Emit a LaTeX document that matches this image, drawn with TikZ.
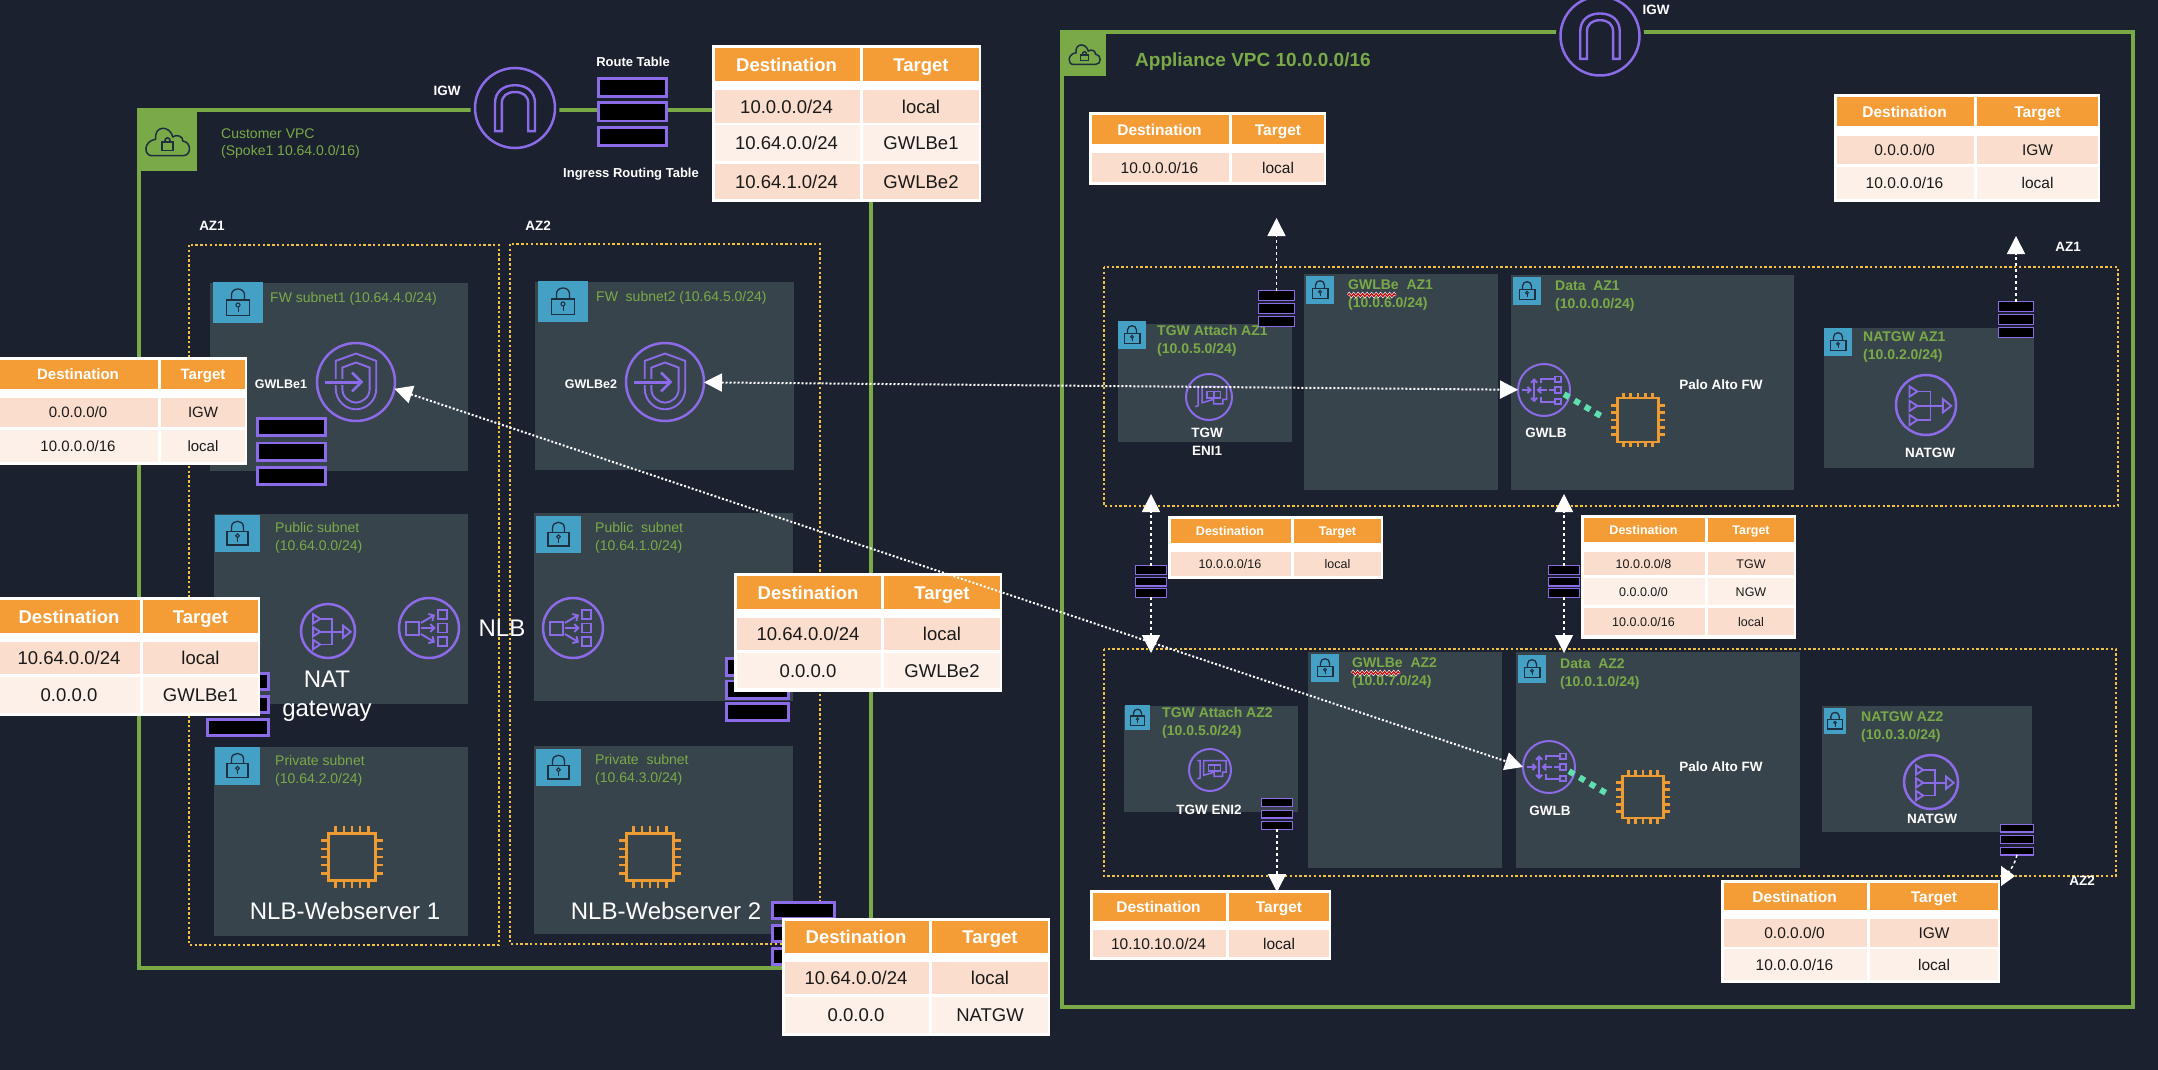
\documentclass[tikz,border=0pt]{standalone}
\usepackage{fontspec}
\setmainfont{Liberation Sans}
\usetikzlibrary{arrows.meta,decorations.pathmorphing}

\definecolor{pagebg}{HTML}{1B212E}
\definecolor{subnetfill}{HTML}{38444C}
\definecolor{vpcgreen}{HTML}{7AAA47}
\definecolor{tabblue}{HTML}{45A0C6}
\definecolor{iconpurple}{HTML}{8C6BE8}
\definecolor{chiporange}{HTML}{EE9B32}
\definecolor{azyellow}{HTML}{F5C33B}
\definecolor{tblhead}{HTML}{F49D37}
\definecolor{tblrowa}{HTML}{FADDCC}
\definecolor{tblrowb}{HTML}{FDF0E8}
\definecolor{dotteal}{HTML}{5FDFAE}
\definecolor{glyphdark}{HTML}{1E2F40}

\newcommand{\pxfont}[1]{\fontsize{#1}{#1}\selectfont}

\tikzset{
  bigtip/.tip={Triangle[length=18pt,width=18pt]},
  vpcbox/.style={draw=vpcgreen,line width=3.5pt},
  azbox/.style={draw=azyellow,line width=2.4pt,dash pattern=on 2.4pt off 2.4pt},
  iconring/.style={circle,draw=iconpurple,line width=2.5pt,inner sep=0pt,outer sep=0pt},
  gapring/.style={iconring,fill=pagebg,preaction={draw=pagebg,line width=9pt}},
  glyphline/.style={draw=iconpurple,line width=1.9pt,line join=miter},
  chipbody/.style={rectangle,draw=chiporange,line width=2.5pt,inner sep=0pt,outer sep=0pt},
  chipline/.style={draw=chiporange,line width=2.5pt},
  routerow/.style={rectangle,draw=iconpurple,fill=black,inner sep=0pt,outer sep=0pt},
  dotwire/.style={draw=white,line width=2pt,dash pattern=on 2pt off 2pt},
  dashwire/.style={draw=white,line width=1.5pt,dash pattern=on 3pt off 3pt},
  whitelabel/.style={text=white,font=\bfseries\pxfont{13.5},inner sep=0pt},
  biglabel/.style={text=white,font=\pxfont{24},inner sep=0pt},
  vpclabel/.style={text=vpcgreen,anchor=west,align=left,inner sep=0pt},
  cellhead/.style={text=white,font=\bfseries\pxfont{#1},inner sep=0pt,anchor=base},
  cellbody/.style={text=black!90,font=\pxfont{#1},inner sep=0pt,anchor=base},
  teal dots/.style={draw=dotteal,line width=6pt,dash pattern=on 6pt off 6.17pt},
  squiggle/.style={draw=red!80!black,line width=1.2pt,decorate,decoration={zigzag,amplitude=1.4pt,segment length=4.5pt},
    preaction={draw=white,line width=2.4pt}},
  % icon glyphs, one unit is the ring radius
  archglyph/.pic={
    \draw[glyphline,line width=2.4pt] (-0.5,0.58) -- (-0.5,-0.12) .. controls (-0.5,-0.4) and (-0.3,-0.57) .. (0,-0.57) .. controls (0.3,-0.57) and (0.5,-0.4) .. (0.5,-0.12) -- (0.5,0.58) -- (0.33,0.58) -- (0.33,-0.12) .. controls (0.33,-0.3) and (0.2,-0.4) .. (0,-0.4) .. controls (-0.2,-0.4) and (-0.33,-0.3) .. (-0.33,-0.12) -- (-0.33,0.58) -- cycle;
  },
  shieldglyph/.pic={
    \draw[glyphline] (0,-0.73) -- (0.52,-0.54) -- (0.52,0.16) .. controls (0.52,0.5) and (0.25,0.7) .. (0,0.7) .. controls (-0.25,0.7) and (-0.52,0.5) .. (-0.52,0.16) -- (-0.52,-0.54) -- cycle;
    \draw[glyphline] (0,-0.5) -- (0.35,-0.37) -- (0.35,0.18) .. controls (0.35,0.4) and (0.15,0.53) .. (0,0.53) .. controls (-0.15,0.53) and (-0.35,0.4) .. (-0.35,0.18) -- (-0.35,-0.37) -- cycle;
    \draw[draw=subnetfill,line width=6pt] (-0.6,0) -- (-0.2,0);
    \draw[glyphline,line width=3pt] (-0.8,0) -- (0.1,0);
    \draw[glyphline,line width=2.6pt] (-0.1,-0.24) -- (0.14,0) -- (-0.1,0.24);
  },
  natglyph/.pic={
    \foreach \yy in {-0.45,0.03,0.5} { \draw[glyphline] (-0.55,\yy-0.17) -- (-0.29,\yy) -- (-0.55,\yy+0.17) -- cycle; }
    \draw[glyphline] (-0.29,-0.45) -- (0.15,-0.45) -- (0.15,0.5) -- (-0.29,0.5);
    \draw[glyphline] (-0.29,0.03) -- (0.56,0.03);
    \draw[glyphline] (0.56,-0.2) -- (0.84,0.03) -- (0.56,0.25) -- cycle;
  },
  nlbglyph/.pic={
    \draw[glyphline] (-0.78,-0.2) rectangle (-0.33,0.22);
    \foreach \yy in {-0.44,0,0.44} { \draw[glyphline] (0.29,\yy-0.15) rectangle (0.59,\yy+0.15); }
    \draw[glyphline,-{Straight Barb[length=4pt,width=8pt]}] (-0.27,-0.17) -- (0.2,-0.44);
    \draw[glyphline,-{Straight Barb[length=4pt,width=8pt]}] (-0.27,0) -- (0.22,0);
    \draw[glyphline,-{Straight Barb[length=4pt,width=8pt]}] (-0.27,0.2) -- (0.2,0.48);
  },
  gwlbglyph/.pic={
    \draw[glyphline,{Straight Barb[length=3pt,width=6pt]}-{Straight Barb[length=3pt,width=6pt]}] (-0.38,-0.45) -- (-0.38,0.47);
    \draw[glyphline,-{Straight Barb[length=3pt,width=6pt]}] (-0.86,0) -- (-0.47,0);
    \draw[glyphline,-{Straight Barb[length=3pt,width=6pt]}] (0.1,0) -- (-0.28,0);
    \draw[glyphline] (0.2,0) -- (0.43,0);
    \draw[glyphline] (-0.13,-0.26) -- (-0.13,-0.42) -- (0.43,-0.42);
    \draw[glyphline] (-0.13,0.28) -- (-0.13,0.45) -- (0.43,0.45);
    \foreach \yy in {-0.42,0,0.45} { \draw[glyphline] (0.43,\yy-0.1) rectangle (0.65,\yy+0.1); }
  },
  eniglyph/.pic={
    \draw[glyphline,line width=1.5pt] (-0.6,-0.45) -- (-0.47,-0.45) -- (-0.47,0.38) -- (-0.6,0.42);
    \draw[glyphline,line width=1.5pt] (-0.3,-0.45) -- (0.77,-0.45) -- (0.77,0.1) -- (0.6,0.1) -- (0.6,0.3) -- (0.2,0.3) -- (0.2,0.1) -- (-0.3,0.25) -- cycle;
    \draw[glyphline,line width=1.5pt] (-0.08,-0.24) rectangle (0.5,0.05);
    \draw[glyphline,line width=1.5pt] (0.21,-0.24) -- (0.21,0.05);
  },
  chipglyph/.pic={
    \foreach \t in {-0.7,-0.35,0,0.35,0.7} {
      \draw[chipline] (\t,-1) -- (\t,-1.3);
      \draw[chipline] (\t,1) -- (\t,1.3);
      \draw[chipline] (-1,\t) -- (-1.3,\t);
      \draw[chipline] (1,\t) -- (1.3,\t);
    }
  },
  % tab glyphs, one unit is the tab height or width
  lockglyph/.pic={
    \draw[draw=glyphdark,line width=1.3pt,fill=none] (-0.28,-0.06) rectangle (0.28,0.31);
    \draw[draw=glyphdark,line width=1.3pt] (-0.16,-0.06) -- (-0.16,-0.18) .. controls (-0.16,-0.38) and (0.16,-0.38) .. (0.16,-0.18) -- (0.16,-0.06);
    \draw[draw=glyphdark,line width=1pt] (0,0.06) circle (0.05);
    \draw[draw=glyphdark,line width=1pt] (0,0.11) -- (0,0.22);
  },
  cloudglyph/.pic={
    \draw[draw=glyphdark,line width=1.5pt] (-0.26,0.25) -- (0.26,0.25) .. controls (0.41,0.25) and (0.41,0.02) .. (0.26,0.0) .. controls (0.27,-0.08) and (0.15,-0.12) .. (0.09,-0.07) .. controls (0.04,-0.27) and (-0.23,-0.27) .. (-0.2,-0.03) .. controls (-0.41,0.0) and (-0.41,0.25) .. cycle;
    \draw[draw=glyphdark,line width=1.5pt] (-0.09,0.02) rectangle (0.09,0.16);
    \draw[draw=glyphdark,line width=1.5pt] (-0.05,0.02) .. controls (-0.05,-0.08) and (0.05,-0.08) .. (0.05,0.02);
  }
}

% name, font size, x left, x split, x right, y top, y bottom, header bottom, rows
\newcommand{\rtable}[9]{%
  \fill[white] (#3,#6) rectangle (#5,#7);
  \fill[tblhead] (#3+2.5,#6+3) rectangle (#4-1.5,#8);
  \fill[tblhead] (#4+1.5,#6+3) rectangle (#5-2.5,#8);
  \node[cellhead=#2] (#1h1) at ({(#3+#4)/2},{(#6+3+#8)/2+0.36*#2}) {Destination};
  \node[cellhead=#2] (#1h2) at ({(#4+#5)/2},{(#6+3+#8)/2+0.36*#2}) {Target};
  \foreach \ya/\yb/\dst/\tgt [count=\i] in {#9} {
    \ifodd\i \def\rowclr{tblrowa}\else \def\rowclr{tblrowb}\fi
    \fill[\rowclr] (#3+2.5,\ya) rectangle (#4-1.5,\yb);
    \fill[\rowclr] (#4+1.5,\ya) rectangle (#5-2.5,\yb);
    \node[cellbody=#2] (#1a\i) at ({(#3+#4)/2},{(\ya+\yb)/2+0.36*#2}) {\dst};
    \node[cellbody=#2] (#1b\i) at ({(#4+#5)/2},{(\ya+\yb)/2+0.36*#2}) {\tgt};
  }
}
% name, corner, corner, tab corner, tab width, tab height, label position, label
\newcommand{\subnet}[8]{%
  \fill[subnetfill] #2 rectangle #3;
  \fill[tabblue] #4 rectangle ++(#5,#6);
  \path #4 ++(#5/2,#6/2) pic[scale=#6] {lockglyph};
  \node[subnetlabel] (#1) at #7 {#8};
}
% name, x centre, width, y centre of first row, row height, pitch
\newcommand{\routestack}[6]{%
  \foreach \i in {1,2,3} {
    \node[routerow,line width={#5/7.5},minimum width=#3-#5/7.5,minimum height=#5-#5/7.5] (#1\i) at (#2,{#4+(\i-1)*#6}) {};
  }
}

\begin{document}
\begin{tikzpicture}[x=1pt,y=-1pt]
  \useasboundingbox (0,0) rectangle (2158,1070);
  \fill[pagebg] (0,0) rectangle (2158,1070);

  % Customer VPC
  \begin{scope}[subnetlabel/.style={vpclabel,font=\fontsize{14}{18}\selectfont}]
  \draw[vpcbox] (139,110) rectangle (871,968);
  \fill[vpcgreen] (138,109) rectangle (197,171);
  \pic[scale=59] at (167.5,141) {cloudglyph};
  \node[vpclabel,font=\fontsize{14}{17.5}\selectfont] (lblCustomer) at (221,143.5) {Customer VPC\\(Spoke1 10.64.0.0/16)};
  \draw[azbox] (189,245) rectangle (499,945);
  \draw[azbox] (510,244) rectangle (820,944);
  \node[whitelabel] (lblAzOne) at (212,226) {AZ1};
  \node[whitelabel] (lblAzTwo) at (538,226) {AZ2};
  \subnet{subFw1}{(210,283)}{(468,471)}{(213,282)}{50}{41}{(270,299)}{FW subnet1 (10.64.4.0/24)}
  \subnet{subFw2}{(535,282)}{(794,470)}{(538,281)}{50}{41}{(596,298)}{FW~~subnet2 (10.64.5.0/24)}
  \subnet{subPub1}{(214,514)}{(468,704)}{(215,515)}{45}{37}{(275,538)}{Public subnet\\(10.64.0.0/24)}
  \subnet{subPub2}{(534,513)}{(793,701)}{(536,516)}{45}{37}{(595,538)}{Public~~subnet\\(10.64.1.0/24)}
  \subnet{subPriv1}{(214,747)}{(468,936)}{(215,747)}{45}{38}{(275,771)}{Private subnet\\(10.64.2.0/24)}
  \subnet{subPriv2}{(534,746)}{(793,934)}{(536,749)}{45}{37}{(595,770)}{Private~~subnet\\(10.64.3.0/24)}
  \end{scope}

  \node[gapring,minimum size=80] (igwCustomer) at (515,108) {};
  \pic[scale=40] at (igwCustomer) {archglyph};
  \node[whitelabel] (lblIgwCustomer) at (447,91) {IGW};
  \routestack{rtIngress}{632.5}{71}{87.5}{21}{24.5}
  \node[whitelabel,font=\bfseries\pxfont{13}] (lblRoute) at (633,62) {Route Table};
  \node[whitelabel,font=\bfseries\pxfont{13}] (lblIngress) at (631,174) {Ingress Routing Table};

  \node[iconring,minimum size=78] (gwlbeOne) at (356,382) {};
  \pic[scale=39] at (gwlbeOne) {shieldglyph};
  \node[iconring,minimum size=78] (gwlbeTwo) at (665,382) {};
  \pic[scale=39] at (gwlbeTwo) {shieldglyph};
  \node[whitelabel,font=\bfseries\pxfont{12.5}] (lblGwlbeOne) at (281,384) {GWLBe1};
  \node[whitelabel,font=\bfseries\pxfont{12.5}] (lblGwlbeTwo) at (591,384) {GWLBe2};
  \routestack{rtFwOne}{291.5}{71}{427}{20}{24.5}
  \routestack{rtPubOne}{238}{64}{681.5}{19}{23}
  \routestack{rtPubTwo}{757.5}{65}{667}{20}{22.5}
  \routestack{rtNatBox}{803.5}{65}{910.5}{19}{23}

  \node[iconring,minimum size=54] (natPub) at (328,631) {};
  \pic[scale=27] at (natPub) {natglyph};
  \node[iconring,minimum size=60] (nlbOne) at (429,628) {};
  \pic[scale=30] at (nlbOne) {nlbglyph};
  \node[iconring,minimum size=60] (nlbTwo) at (573,628) {};
  \pic[scale=30] at (nlbTwo) {nlbglyph};
  \node[biglabel] (lblNlb) at (502,628) {NLB};
  \node[biglabel] (lblNat) at (327,679) {NAT};
  \node[biglabel] (lblGateway) at (327,711) {gateway};

  \node[chipbody,minimum size=47] (chipWebOne) at (352,857) {};
  \pic[scale=23.5] at (chipWebOne) {chipglyph};
  \node[chipbody,minimum size=47] (chipWebTwo) at (650,857) {};
  \pic[scale=23.5] at (chipWebTwo) {chipglyph};
  \node[biglabel] (lblWebOne) at (345,911) {NLB-Webserver 1};
  \node[biglabel] (lblWebTwo) at (666,911) {NLB-Webserver 2};

  % Appliance VPC
  \begin{scope}[subnetlabel/.style={vpclabel,font=\bfseries\fontsize{14}{18}\selectfont}]
  \draw[vpcbox] (1062,32) rectangle (2133,1007);
  \fill[vpcgreen] (1063,31) rectangle (1106,76);
  \pic[scale=42] at (1084.5,54) {cloudglyph};
  \node[vpclabel,font=\bfseries\pxfont{19}] (lblAppliance) at (1135,62) {Appliance VPC 10.0.0.0/16};
  \draw[azbox] (1104,267) rectangle (2118,506);
  \draw[azbox] (1104,649) rectangle (2116,876);
  \node[whitelabel] (lblAzOneB) at (2068,247) {AZ1};
  \node[whitelabel] (lblAzTwoB) at (2082,881) {AZ2};
  \subnet{subTgw1}{(1118,324)}{(1292,442)}{(1118,321)}{28}{28}{(1157,341)}{TGW Attach AZ1\\(10.0.5.0/24)}
  \subnet{subGwe1}{(1304,274)}{(1498,490)}{(1306,276)}{28}{28}{(1348,295)}{GWLBe~~AZ1\\(10.0.6.0/24)}
  \subnet{subData1}{(1511,275)}{(1794,490)}{(1513,277)}{28}{28}{(1555,296)}{Data~~AZ1\\(10.0.0.0/24)}
  \subnet{subNat1}{(1824,328)}{(2034,468)}{(1824,328)}{28}{28}{(1863,347)}{NATGW AZ1\\(10.0.2.0/24)}
  \subnet{subTgw2}{(1124,706)}{(1298,812)}{(1125,705)}{25}{25}{(1162,723)}{TGW Attach AZ2\\(10.0.5.0/24)}
  \subnet{subGwe2}{(1308,652)}{(1502,868)}{(1311,654)}{28}{28}{(1352,673)}{GWLBe~~AZ2\\(10.0.7.0/24)}
  \subnet{subData2}{(1516,652)}{(1800,868)}{(1518,655)}{28}{28}{(1560,674)}{Data~~AZ2\\(10.0.1.0/24)}
  \subnet{subNat2}{(1822,706)}{(2032,832)}{(1824,708)}{22}{26}{(1861,727)}{NATGW AZ2\\(10.0.3.0/24)}
  \end{scope}
  \draw[squiggle] (1348,295) -- (1396,295);
  \draw[squiggle] (1352,673) -- (1400,673);

  \node[gapring,minimum size=79] (igwAppliance) at (1600,36) {};
  \pic[scale=39.5] at (igwAppliance) {archglyph};
  \node[whitelabel] (lblIgwAppliance) at (1656,10) {IGW};

  \node[iconring,minimum size=46,line width=2pt] (eniOne) at (1209,397) {};
  \pic[scale=23] at (eniOne) {eniglyph};
  \node[whitelabel] (lblTgw) at (1207,433) {TGW};
  \node[whitelabel] (lblEniOne) at (1207,451) {ENI1};
  \node[iconring,minimum size=52,line width=2pt] (gwlbOne) at (1544,390) {};
  \pic[scale=26] at (gwlbOne) {gwlbglyph};
  \node[whitelabel] (lblGwlbOne) at (1546,433) {GWLB};
  \node[chipbody,minimum width=41,minimum height=44] (chipFwOne) at (1638,420) {};
  \pic[scale=21] at (chipFwOne) {chipglyph};
  \node[whitelabel] (lblPaloOne) at (1721,385) {Palo Alto FW};
  \node[iconring,minimum size=60] (natOne) at (1926,405) {};
  \pic[scale=30] at (natOne) {natglyph};
  \node[whitelabel] (lblNatOne) at (1930,453) {NATGW};

  \node[iconring,minimum size=42,line width=2pt] (eniTwo) at (1210,770) {};
  \pic[scale=21] at (eniTwo) {eniglyph};
  \node[whitelabel] (lblEniTwo) at (1209,810) {TGW ENI2};
  \node[iconring,minimum size=52,line width=2pt] (gwlbTwo) at (1549,767) {};
  \pic[scale=26] at (gwlbTwo) {gwlbglyph};
  \node[whitelabel] (lblGwlbTwo) at (1550,811) {GWLB};
  \node[chipbody,minimum width=41,minimum height=42] (chipFwTwo) at (1643,797) {};
  \pic[scale=21] at (chipFwTwo) {chipglyph};
  \node[whitelabel] (lblPaloTwo) at (1721,767) {Palo Alto FW};
  \node[iconring,minimum size=54] (natTwo) at (1931,782) {};
  \pic[scale=27] at (natTwo) {natglyph};
  \node[whitelabel] (lblNatTwo) at (1932,819) {NATGW};

  \coordinate (tealOneA) at (1564,394.2);
  \coordinate (tealOneB) at (1600.6,415.8);
  \draw[teal dots] (tealOneA) -- (tealOneB);
  \coordinate (tealTwoA) at (1569,771.2);
  \coordinate (tealTwoB) at (1605.6,792.8);
  \draw[teal dots] (tealTwoA) -- (tealTwoB);

  \routestack{rtTgwOne}{1276.5}{37}{295.5}{11}{13}
  \routestack{rtNatOne}{2016}{36}{306.5}{11}{13}
  \routestack{rtMidL}{1151}{32}{570}{10}{11.5}
  \routestack{rtMidR}{1564}{32}{570}{10}{11.5}
  \routestack{rtTgwTwo}{1277}{32}{802.5}{9}{11.5}
  \routestack{rtNatTwo}{2017}{34}{828}{9}{11.5}

  % Route tables
  \rtable{tblIngress}{18.5}{712}{861}{981}{45}{202}{81}{90/123/{10.0.0.0/24}/local,125/161/{10.64.0.0/24}/GWLBe1,164/199/{10.64.1.0/24}/GWLBe2}
  \rtable{tblFw}{15}{-3}{159}{247}{357}{465}{389}{398/427/{0.0.0.0/0}/IGW,430/462/{10.0.0.0/16}/local}
  \rtable{tblPubOne}{18.5}{-3}{141}{260}{597}{716}{633}{642/674/{10.64.0.0/24}/local,677/713/0.0.0.0/GWLBe1}
  \rtable{tblPubTwo}{18.5}{734}{882}{1002}{573}{692}{609}{618/650/{10.64.0.0/24}/local,653/688/0.0.0.0/GWLBe2}
  \rtable{tblPriv}{18.5}{782}{930}{1050}{918}{1036}{953}{962/994/{10.64.0.0/24}/local,997/1033/0.0.0.0/NATGW}
  \rtable{tblTgwOne}{15.5}{1089}{1230}{1326}{112}{185}{144}{153/182/{10.0.0.0/16}/local}
  \rtable{tblNatOne}{15.5}{1834}{1975}{2100}{94}{202}{126}{136/164/{0.0.0.0/0}/IGW,167/199/{10.0.0.0/16}/local}
  \rtable{tblMidL}{12.5}{1168}{1292}{1383}{516}{579}{543}{552/576/{10.0.0.0/16}/local}
  \rtable{tblMidR}{12.5}{1581}{1706}{1796}{515}{639}{542}{552/575/{10.0.0.0/8}/TGW,578/605/{0.0.0.0/0}/NGW,608/635/{10.0.0.0/16}/local}
  \rtable{tblTgwTwo}{15.5}{1090}{1227}{1331}{890}{960}{921}{930/957/{10.10.10.0/24}/local}
  \rtable{tblNatTwo}{15.5}{1721}{1868}{2000}{880}{983}{910}{919/947/{0.0.0.0/0}/IGW,949/980/{10.0.0.0/16}/local}

  % Connectors
  \draw[dotwire,bigtip-bigtip] (gwlbeTwo) -- (gwlbOne);
  \draw[dotwire,bigtip-bigtip] (gwlbeOne.350) -- (gwlbTwo.west);
  \coordinate (tipTgwOne) at (1276.5,218);
  \coordinate (tipNatOne) at (2016,236);
  \coordinate (tipMidLup) at (1151,494);
  \coordinate (tipMidLdn) at (1151,653);
  \coordinate (tipMidRup) at (1564,494);
  \coordinate (tipMidRdn) at (1564,653);
  \coordinate (tipTgwTwo) at (1277,892);
  \coordinate (tipNatTwo) at (2015,876);
  \draw[dashwire,-bigtip] (rtTgwOne1.north) -- (tipTgwOne);
  \draw[dashwire,-bigtip] (rtNatOne1.north) -- (tipNatOne);
  \draw[dashwire,-bigtip] (rtMidL1.north) -- (tipMidLup);
  \draw[dashwire,-bigtip] (rtMidL3.south) -- (tipMidLdn);
  \draw[dashwire,-bigtip] (rtMidR1.north) -- (tipMidRup);
  \draw[dashwire,-bigtip] (rtMidR3.south) -- (tipMidRdn);
  \draw[dashwire,-bigtip] (rtTgwTwo3.south) -- (tipTgwTwo);
  \draw[dashwire,-{Triangle[length=14pt,width=20pt]}] (rtNatTwo3.south) .. controls (2014,868) and (2006,876) .. (tipNatTwo);
\end{tikzpicture}
\end{document}
